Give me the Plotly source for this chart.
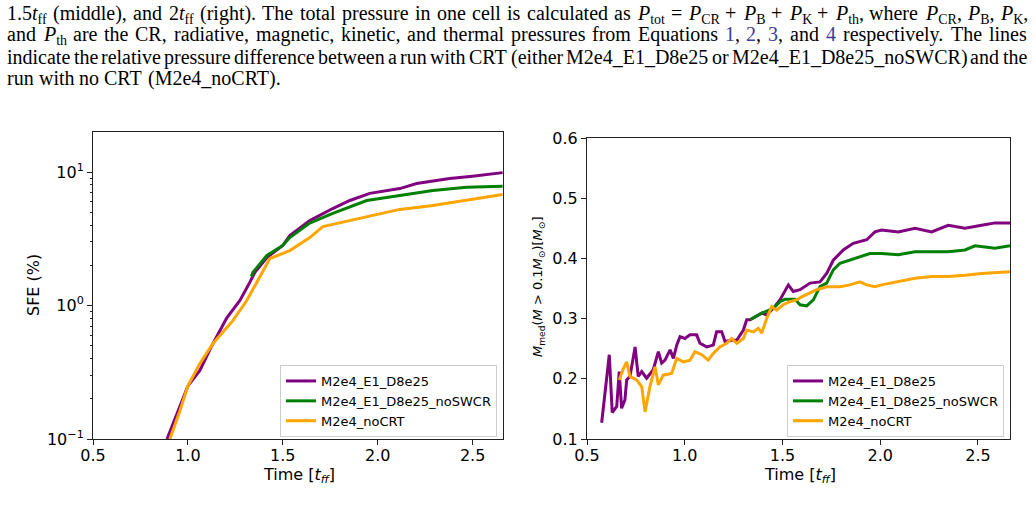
import re
import plotly.graph_objects as go

W, H = 1035, 515

# ---------------- data: left panel (SFE, %) ----------------
sfe_t_purple = [0.89, 0.942, 1.0, 1.063, 1.126, 1.205, 1.274, 1.326, 1.353, 1.416, 1.5, 1.537,
                1.642, 1.763, 1.853, 1.958, 2.116, 2.205, 2.379, 2.5, 2.658]
sfe_purple = [0.1, 0.155, 0.25, 0.326, 0.5, 0.81, 1.09, 1.49, 1.77, 2.29, 2.82, 3.34,
              4.33, 5.33, 6.12, 6.92, 7.52, 8.2, 8.94, 9.3, 9.9]

sfe_t_green = [1.334, 1.342, 1.416, 1.5, 1.537, 1.642, 1.763, 1.942, 2.116, 2.29, 2.468, 2.658]
sfe_green = [1.65, 1.77, 2.37, 2.82, 3.23, 4.15, 4.9, 6.12, 6.67, 7.26, 7.7, 7.83]

sfe_t_orange = [0.905, 0.958, 1.0, 1.063, 1.132, 1.237, 1.31, 1.379, 1.432, 1.537, 1.642, 1.711,
                1.853, 2.026, 2.116, 2.29, 2.468, 2.658]
sfe_orange = [0.1, 0.163, 0.25, 0.367, 0.52, 0.77, 1.09, 1.62, 2.25, 2.58, 3.23, 3.9,
              4.33, 4.9, 5.25, 5.62, 6.12, 6.78]

# ---------------- data: right panel (median mass) ----------------
mm_t_purple = [0.575, 0.614, 0.629, 0.652, 0.665, 0.677, 0.694, 0.703, 0.72, 0.746, 0.762, 0.78,
               0.805, 0.839, 0.865, 0.882, 0.899, 0.925, 0.942, 0.959, 0.976, 1.001, 1.027, 1.061,
               1.078, 1.112, 1.146, 1.163, 1.189, 1.206, 1.24, 1.266, 1.3, 1.317, 1.334, 1.394,
               1.419, 1.453, 1.487, 1.53, 1.555, 1.59, 1.641, 1.692, 1.726, 1.76, 1.811, 1.862,
               1.931, 1.973, 2.007, 2.092, 2.178, 2.263, 2.348, 2.434, 2.519, 2.587, 2.664]
mm_purple = [0.127, 0.24, 0.144, 0.154, 0.212, 0.151, 0.165, 0.198, 0.204, 0.253, 0.204, 0.212,
             0.201, 0.215, 0.245, 0.226, 0.231, 0.248, 0.234, 0.256, 0.27, 0.267, 0.273, 0.273,
             0.259, 0.253, 0.256, 0.278, 0.278, 0.262, 0.264, 0.264, 0.281, 0.298, 0.298, 0.309,
             0.306, 0.317, 0.331, 0.356, 0.345, 0.348, 0.359, 0.361, 0.375, 0.397, 0.414, 0.425,
             0.431, 0.444, 0.447, 0.444, 0.45, 0.444, 0.455, 0.45, 0.455, 0.459, 0.459]

mm_t_green = [1.334, 1.394, 1.453, 1.487, 1.513, 1.564, 1.59, 1.624, 1.658, 1.692, 1.726, 1.76,
              1.794, 1.845, 1.896, 1.947, 2.007, 2.092, 2.178, 2.348, 2.434, 2.485, 2.587, 2.664]
mm_green = [0.298, 0.309, 0.317, 0.328, 0.332, 0.332, 0.323, 0.321, 0.331, 0.353, 0.359, 0.381,
            0.392, 0.397, 0.403, 0.408, 0.408, 0.406, 0.411, 0.411, 0.414, 0.421, 0.417, 0.421]

mm_t_orange = [0.665, 0.686, 0.703, 0.72, 0.754, 0.78, 0.797, 0.822, 0.848, 0.865, 0.89, 0.933,
               0.959, 0.993, 1.027, 1.052, 1.087, 1.12, 1.146, 1.18, 1.214, 1.24, 1.266, 1.3,
               1.317, 1.351, 1.376, 1.394, 1.419, 1.445, 1.47, 1.504, 1.538, 1.572, 1.598, 1.641,
               1.675, 1.726, 1.794, 1.845, 1.896, 1.931, 1.973, 2.007, 2.092, 2.178, 2.263, 2.348,
               2.434, 2.519, 2.664]
mm_orange = [0.198, 0.217, 0.228, 0.204, 0.198, 0.187, 0.145, 0.187, 0.22, 0.19, 0.206, 0.209,
             0.234, 0.228, 0.231, 0.245, 0.24, 0.231, 0.242, 0.253, 0.259, 0.267, 0.259, 0.267,
             0.281, 0.278, 0.284, 0.276, 0.3, 0.32, 0.314, 0.323, 0.328, 0.331, 0.336, 0.342,
             0.348, 0.353, 0.353, 0.356, 0.361, 0.356, 0.353, 0.356, 0.361, 0.367, 0.37, 0.37,
             0.372, 0.375, 0.378]

names = ["M2e4_E1_D8e25", "M2e4_E1_D8e25_noSWCR", "M2e4_noCRT"]
colors = ["#800080", "#008000", "#FFA500"]

x_ticks = [0.5, 1.0, 1.5, 2.0, 2.5]
sfe_major = [0.1, 1, 10]
sfe_major_text = ["10<sup>\u22121</sup>", "10<sup>0</sup>", "10<sup>1</sup>"]
sfe_minor = [0.2, 0.3, 0.4, 0.5, 0.6, 0.7, 0.8, 0.9, 2, 3, 4, 5, 6, 7, 8, 9]
mm_ticks = [0.1, 0.2, 0.3, 0.4, 0.5, 0.6]

# ---------------- caption text (justified paragraph above the figure) ----------------
REF = "<span style='color:#3b3b9e'>%s</span>"
P = lambda s: "<i>P</i><sub>%s</sub>" % s
caption_text = [
    "1.5<i>t</i><sub>ff</sub> (middle), and 2<i>t</i><sub>ff</sub> (right). The total pressure in one cell is "
    "calculated as " + P("tot") + " = " + P("CR") + " + " + P("B") + " + " + P("K") + " + " + P("th")
    + ", where " + P("CR") + ", " + P("B") + ", " + P("K") + ",",
    "and " + P("th") + " are the CR, radiative, magnetic, kinetic, and thermal pressures from Equations "
    + REF % "1" + ", " + REF % "2" + ", " + REF % "3" + ", and " + REF % "4" + " respectively. The lines",
    "indicate the relative pressure difference between a run with CRT (either M2e4_E1_D8e25 or "
    "M2e4_E1_D8e25_noSWCR) and the",
    "run with no CRT (M2e4_noCRT).",
]
caption_justify = [True, True, True, False]
caption_top = [0.5, 22.5, 44.5, 66.5]
CAP_SIZE = 20
CAP_LEFT, CAP_RIGHT = 7, 1027

# approximate Times / Liberation Serif advance widths (per em) used to justify lines
_ROMAN = {" ": .25, "(": .333, ")": .333, "+": .564, ",": .25, ".": .25, "=": .564, "_": .5,
          "A": .722, "B": .667, "C": .667, "D": .722, "E": .611, "K": .722, "M": .889, "P": .556,
          "R": .667, "S": .556, "T": .611, "W": .944,
          "a": .444, "b": .5, "c": .444, "d": .5, "e": .444, "f": .333, "g": .5, "h": .5, "i": .278,
          "k": .5, "l": .278, "m": .778, "n": .5, "o": .5, "p": .5, "q": .5, "r": .333, "s": .389,
          "t": .278, "u": .5, "v": .5, "w": .722, "x": .5, "y": .5}
_ITALIC = {"P": .611, "t": .278, "M": .833}


def word_width(html, size):
    w, sub, ital = 0.0, False, False
    for tok in re.split(r"(<[^>]+>)", html):
        if tok.startswith("<"):
            tag = tok.strip("<>/ ").split()[0].lower()
            closing = tok.startswith("</")
            if tag == "sub":
                sub = not closing
            elif tag == "i":
                ital = not closing
            continue
        for ch in tok:
            cw = (_ITALIC.get(ch) if ital else None) or _ROMAN.get(ch, 0.5)
            w += cw * (0.7 if sub else 1.0)
    return w * size


def split_words(html):
    # split on spaces that are not inside a tag
    return re.split(r" (?![^<]*>)", html)


# ---------------- figure ----------------
fig = go.Figure()

sfe_sets = [(sfe_t_purple, sfe_purple), (sfe_t_green, sfe_green), (sfe_t_orange, sfe_orange)]
mm_sets = [(mm_t_purple, mm_purple), (mm_t_green, mm_green), (mm_t_orange, mm_orange)]

for (tx, ty), nm, c in zip(sfe_sets, names, colors):
    fig.add_trace(go.Scatter(x=tx, y=ty, mode="lines", name=nm, line=dict(color=c, width=3),
                             xaxis="x", yaxis="y", legend="legend"))
for (tx, ty), nm, c in zip(mm_sets, names, colors):
    fig.add_trace(go.Scatter(x=tx, y=ty, mode="lines", name=nm, line=dict(color=c, width=3),
                             xaxis="x2", yaxis="y2", legend="legend2"))


def px_x(p):
    return p / W


def px_y(p):
    return 1 - p / H


tickfont = dict(family="DejaVu Sans", size=16, color="black")
axis_common = dict(showline=True, linecolor="#222", linewidth=1, mirror=True, ticks="outside",
                   ticklen=5, tickcolor="#222", showgrid=False, zeroline=False, tickfont=tickfont,
                   automargin=False)

fig.update_layout(
    width=W, height=H, margin=dict(l=0, r=0, t=0, b=0, pad=0, autoexpand=False),
    paper_bgcolor="white", plot_bgcolor="white",
    xaxis=dict(domain=[px_x(93), px_x(503)], range=[0.5, 2.66], tickvals=x_ticks,
               tickformat=".1f", anchor="y", ticklabelstandoff=-3, **axis_common),
    yaxis=dict(domain=[px_y(439), px_y(132)], type="log", range=[-1, 1.3], tickvals=sfe_major,
               ticktext=sfe_major_text, anchor="x",
               minor=dict(tickvals=sfe_minor, ticks="outside", ticklen=2.5, tickcolor="#222"),
               **axis_common),
    xaxis2=dict(domain=[px_x(587), px_x(1010)], range=[0.5, 2.664], tickvals=x_ticks,
                tickformat=".1f", anchor="y2", ticklabelstandoff=-3, **axis_common),
    yaxis2=dict(domain=[px_y(439), px_y(138)], range=[0.1, 0.6], tickvals=mm_ticks,
                tickformat=".1f", anchor="x2", **axis_common),
    legend=dict(x=px_x(280), y=px_y(365), xanchor="left", yanchor="top",
                bordercolor="#cccccc", borderwidth=1, bgcolor="rgba(255,255,255,0.8)",
                font=dict(family="DejaVu Sans", size=13, color="black")),
    legend2=dict(x=px_x(787), y=px_y(365), xanchor="left", yanchor="top",
                 bordercolor="#cccccc", borderwidth=1, bgcolor="rgba(255,255,255,0.8)",
                 font=dict(family="DejaVu Sans", size=13, color="black")),
)

annos = []
capfont = dict(family="Liberation Serif", size=CAP_SIZE, color="black")
for line, justify, top in zip(caption_text, caption_justify, caption_top):
    words = split_words(line)
    widths = [word_width(wd, CAP_SIZE) for wd in words]
    if justify and len(words) > 1:
        gap = (CAP_RIGHT - CAP_LEFT - sum(widths)) / (len(words) - 1)
    else:
        gap = 0.25 * CAP_SIZE
    x = CAP_LEFT
    for wd, ww in zip(words, widths):
        annos.append(dict(text=wd, x=px_x(x - 1), y=px_y(top), xref="paper", yref="paper",
                          xanchor="left", yanchor="top", showarrow=False, borderpad=0,
                          font=capfont))
        x += ww + gap

labfont = dict(family="DejaVu Sans", size=16, color="black")
annos += [
    dict(text="SFE (%)", x=px_x(33), y=px_y(285), xref="paper", yref="paper", textangle=-90,
         xanchor="center", yanchor="middle", showarrow=False, font=labfont),
    dict(text="Time [<i>t</i><sub><i>ff</i></sub>]", x=px_x(299), y=px_y(475), xref="paper",
         yref="paper", xanchor="center", yanchor="middle", showarrow=False, font=labfont),
    dict(text="Time [<i>t</i><sub><i>ff</i></sub>]", x=px_x(800), y=px_y(475), xref="paper",
         yref="paper", xanchor="center", yanchor="middle", showarrow=False, font=labfont),
    dict(text="<i>M</i><sub>med</sub>(<i>M</i> > 0.1<i>M</i><sub>\u2299</sub>)[<i>M</i><sub>\u2299</sub>]",
         x=px_x(538), y=px_y(287), xref="paper", yref="paper", textangle=-90,
         xanchor="center", yanchor="middle", showarrow=False,
         font=dict(family="DejaVu Sans", size=13, color="black")),
]
fig.update_layout(annotations=annos)

fig.write_html("out.html")
